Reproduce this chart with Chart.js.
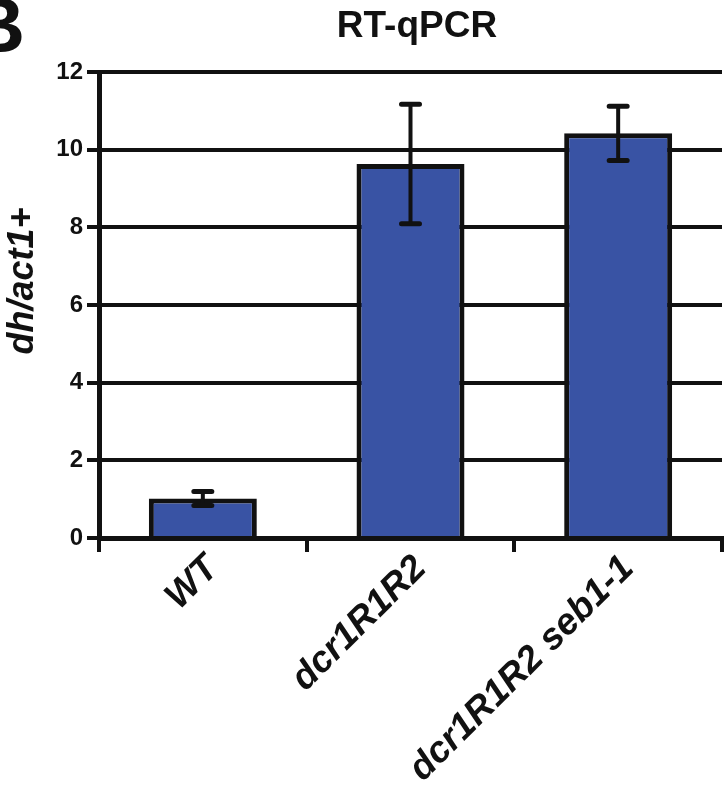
<!DOCTYPE html>
<html>
<head>
<meta charset="utf-8">
<script src="https://cdn.jsdelivr.net/npm/chart.js@4/dist/chart.umd.min.js"></script>
<style>
  html, body { margin: 0; padding: 0; background: #fff; }
  #wrap { width: 728px; height: 797px; position: relative; }
</style>
</head>
<body>
<div id="wrap"><canvas id="c" width="728" height="797"></canvas></div>
<script>
// Strains and relative dh transcript levels (normalised to act1+)
const strains = ['WT', 'dcr1R1R2', 'dcr1R1R2 seb1-1'];
const meanLevels = [1.02, 9.63, 10.42];
const errLevels = [0.18, 1.54, 0.7];
const yTicks = [0, 2, 4, 6, 8, 10, 12];

const INK = '#111111';
const FONT = "'Liberation Sans', Arial, sans-serif";

// Whiskers drawn over each bar from the y scale
const errorBars = {
  id: 'errorBars',
  afterDatasetsDraw(chart) {
    const { ctx, scales: { y } } = chart;
    const meta = chart.getDatasetMeta(0);
    ctx.save();
    ctx.strokeStyle = INK;
    ctx.lineCap = 'round';
    meta.data.forEach((bar, i) => {
      const x = bar.x;
      const hi = y.getPixelForValue(meanLevels[i] + errLevels[i]);
      const lo = y.getPixelForValue(meanLevels[i] - errLevels[i]);
      ctx.lineWidth = 4;
      ctx.beginPath();
      ctx.moveTo(x, hi); ctx.lineTo(x, lo);
      ctx.stroke();
      ctx.lineWidth = 5;
      ctx.beginPath();
      ctx.moveTo(x - 9, hi); ctx.lineTo(x + 9, hi);
      ctx.moveTo(x - 9, lo); ctx.lineTo(x + 9, lo);
      ctx.stroke();
    });
    ctx.restore();
  }
};

// Panel letter, title and y-axis caption
const annotations = {
  id: 'annotations',
  afterDraw(chart) {
    const { ctx } = chart;
    ctx.save();
    ctx.fillStyle = INK;
    ctx.textAlign = 'right';
    ctx.textBaseline = 'alphabetic';
    ctx.font = `bold 78px ${FONT}`;
    ctx.fillText('B', 25, 52);

    ctx.textAlign = 'center';
    ctx.font = `bold 37px ${FONT}`;
    ctx.fillText('RT-qPCR', 417, 37);

    ctx.translate(23, 281);
    ctx.rotate(-Math.PI / 2);
    ctx.textBaseline = 'middle';
    ctx.font = `italic bold 36px ${FONT}`;
    ctx.fillText('dh/act1+', 0, 0);
    ctx.restore();
  }
};

new Chart(document.getElementById('c'), {
  type: 'bar',
  data: {
    labels: strains,
    datasets: [{
      data: meanLevels,
      backgroundColor: '#3953a4',
      borderColor: INK,
      borderWidth: 5,
      categoryPercentage: 1,
      barPercentage: 0.52
    }]
  },
  options: {
    responsive: false,
    animation: false,
    events: [],
    layout: { padding: { top: 72, right: 6, left: 0, bottom: 0 } },
    plugins: {
      legend: { display: false },
      tooltip: { enabled: false },
      title: { display: false }
    },
    scales: {
      x: {
        offset: true,
        afterFit(s) { s.height = 259; },
        grid: {
          offset: true,
          drawOnChartArea: false,
          drawTicks: true,
          tickLength: 14,
          lineWidth: 4,
          color: INK
        },
        border: { display: true, width: 5, color: INK },
        ticks: {
          minRotation: 45,
          maxRotation: 45,
          autoSkip: false,
          padding: -5,
          labelOffset: 10,
          color: INK,
          font: { family: FONT, size: 37, weight: 'bold', style: 'italic' }
        }
      },
      y: {
        min: 0,
        max: 12,
        afterFit(s) { s.width = 99; },
        afterBuildTicks(s) { s.ticks = yTicks.map(v => ({ value: v })); },
        grid: {
          drawOnChartArea: true,
          drawTicks: true,
          tickLength: 12,
          lineWidth: 4,
          color: INK
        },
        border: { display: true, width: 5, color: INK },
        ticks: {
          padding: 4,
          color: INK,
          font: { family: FONT, size: 24, weight: 'bold' }
        }
      }
    }
  },
  plugins: [errorBars, annotations]
});
</script>
</body>
</html>
